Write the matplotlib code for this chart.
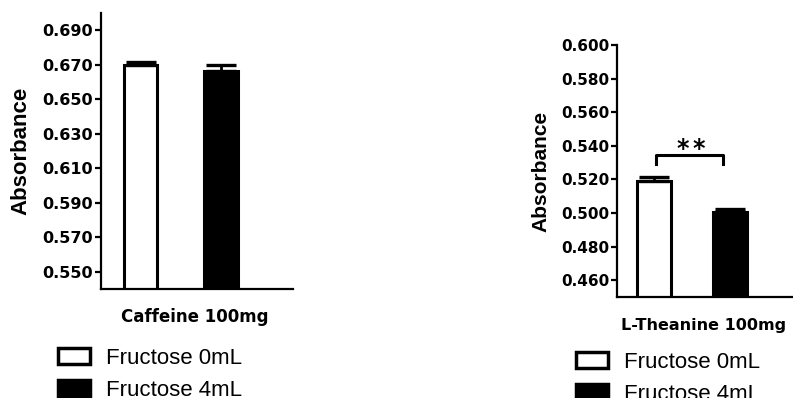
import matplotlib
matplotlib.use("Agg")
import matplotlib.pyplot as plt
from matplotlib.patches import Patch

plt.rcParams['font.family'] = ['Liberation Sans', 'DejaVu Sans']

# data
groups = ['Fructose 0mL', 'Fructose 4mL']
caffeine_mean = [0.6700, 0.6665]
caffeine_err = [0.0018, 0.0035]
theanine_mean = [0.5190, 0.5005]
theanine_err = [0.0022, 0.0021]
caffeine_ticks = [0.550, 0.570, 0.590, 0.610, 0.630, 0.650, 0.670, 0.690]
theanine_ticks = [0.460, 0.480, 0.500, 0.520, 0.540, 0.560, 0.580, 0.600]
bar_colors = ['white', 'black']
pos = [1, 2]

W, H = 793, 398
fig = plt.figure(figsize=(W / 100, H / 100), dpi=100)


def px_axes(left, top, right, bottom):
    return fig.add_axes([left / W, 1 - bottom / H, (right - left) / W, (bottom - top) / H])


def style(ax, ticks, tick_size):
    for s in ['top', 'right']:
        ax.spines[s].set_visible(False)
    for s in ['left', 'bottom']:
        ax.spines[s].set_linewidth(1.6)
    ax.set_xticks([])
    ax.set_yticks(ticks)
    ax.set_yticklabels(['%.3f' % t for t in ticks], fontweight='bold', fontsize=tick_size,
                       family='DejaVu Sans')
    ax.tick_params(axis='y', length=4.5, width=1.6, pad=1)


# left panel
ax1 = px_axes(101, 13, 293, 289)
ax1.bar(pos, caffeine_mean, width=0.42, color=bar_colors, edgecolor='black', linewidth=2.2, zorder=2)
ax1.errorbar(pos, caffeine_mean, yerr=[[0, 0], caffeine_err], fmt='none', ecolor='black',
             elinewidth=2, capsize=11, capthick=2.4, zorder=3)
ax1.set_xlim(0.51, 2.89)
ax1.set_ylim(0.54, 0.70)
style(ax1, caffeine_ticks, 11.5)
ax1.set_ylabel('Absorbance', fontsize=16, fontweight='bold')
ax1.yaxis.set_label_coords(-0.36, 0.5)
ax1.set_xlabel('Caffeine 100mg', fontsize=12, fontweight='bold', family='DejaVu Sans')
ax1.xaxis.set_label_coords(0.49, -0.07)

# right panel
ax2 = px_axes(617, 45, 793, 297)
ax2.bar(pos, theanine_mean, width=0.44, color=bar_colors, edgecolor='black', linewidth=2.2, zorder=2)
ax2.errorbar(pos, theanine_mean, yerr=[[0, 0], theanine_err], fmt='none', ecolor='black',
             elinewidth=2, capsize=11, capthick=2.4, zorder=3)
ax2.set_xlim(0.51, 2.83)
ax2.set_ylim(0.45, 0.60)
style(ax2, theanine_ticks, 11)
ax2.set_ylabel('Absorbance', fontsize=15, fontweight='bold')
ax2.yaxis.set_label_coords(-0.38, 0.5)
ax2.set_xlabel('L-Theanine 100mg', fontsize=11.5, fontweight='bold', family='DejaVu Sans')
ax2.xaxis.set_label_coords(0.494, -0.083)

# significance bracket
bx = [1.03, 1.03, 1.91, 1.91]
by = [0.529, 0.5345, 0.5345, 0.529]
ax2.plot(bx, by, color='black', lw=2.2, solid_joinstyle='round', clip_on=False)
for sx in [1.375, 1.585]:
    ax2.text(sx, 0.5338, '*', ha='center', va='baseline', fontsize=17, fontweight='bold',
             family='DejaVu Sans')

# legends
handles = [Patch(facecolor=c, edgecolor='black', linewidth=2.5) for c in bar_colors]
for x0, y0 in [(58, 348), (576, 352)]:
    fig.legend(handles, groups, loc='upper left', bbox_to_anchor=(x0 / W, 1 - y0 / H),
               frameon=False, fontsize=16, handlelength=1.45, handleheight=0.72,
               handletextpad=0.7, labelspacing=0.5, borderpad=0, borderaxespad=0)

fig.savefig('out.png', dpi=100)
